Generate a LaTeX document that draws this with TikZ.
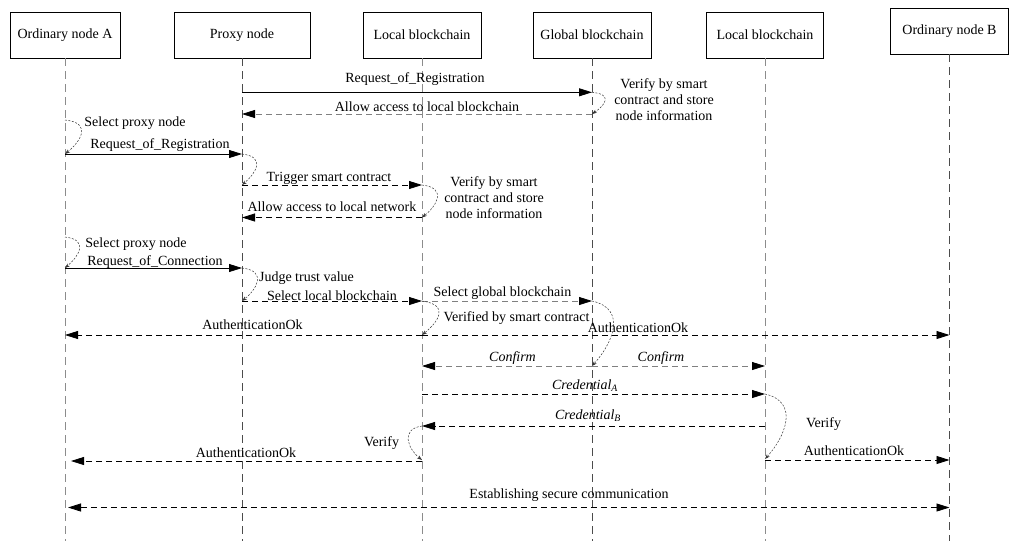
\documentclass[tikz,border=0pt]{standalone}
\usepackage{fontspec}
\setmainfont{Liberation Serif}
\usetikzlibrary{arrows.meta}
\begin{document}
\begin{tikzpicture}[x=1pt,y=-1pt,
  font=\fontsize{14}{16}\selectfont,
  actor/.style={draw, line width=0.8pt, minimum height=46pt, inner sep=0pt},
  life/.style={line width=0.8pt, black!45, dash pattern=on 8pt off 5pt},
  lifed/.style={line width=0.8pt, black!70, dash pattern=on 8pt off 5pt},
  msg/.style={line width=0.8pt, -{Triangle[length=13pt,width=8pt,color=black]}},
  dmsg/.style={msg, dash pattern=on 6pt off 4pt},
  gmsg/.style={dmsg, black!50},
  bmsg/.style={line width=0.8pt, dash pattern=on 6pt off 4pt, {Triangle[length=13pt,width=8pt]}-{Triangle[length=13pt,width=8pt]}},
  self/.style={line width=0.5pt, black!80, dash pattern=on 2pt off 1.5pt, -{Stealth[length=5pt,width=3.5pt]}},
  lbl/.style={inner sep=0pt, text height=9.5pt, text depth=0pt},
  para/.style={inner sep=0pt, align=center}
]
\useasboundingbox (0,0) rectangle (1022,550);

% actors
\node[actor, minimum width=110pt] (A) at (65,35) {Ordinary node A};
\node[actor, minimum width=136pt] (P) at (242,35) {Proxy node};
\node[actor, minimum width=118pt] (L1) at (422,35) {Local blockchain};
\node[actor, minimum width=118pt] (G) at (592,35) {Global blockchain};
\node[actor, minimum width=117pt] (L2) at (765,35) {Local blockchain};
\node[actor, minimum width=118pt] (B) at (949.5,31) {Ordinary node B};

% lifelines
\draw[life]  (A.south)  -- (A.south |- 0,541);
\draw[lifed] (P.south)  -- (P.south |- 0,541);
\draw[life]  (L1.south) -- (L1.south |- 0,541);
\draw[lifed] (G.south)  -- (G.south |- 0,541);
\draw[life]  (L2.south) -- (L2.south |- 0,541);
\draw[lifed] (B.south)  -- (B.south |- 0,541);

% registration via proxy
\draw[msg]  (P |- 0,92.3) -- (G |- 0,92.3);
\draw[self] (G |- 0,92.3) .. controls +(22,2) and +(12,-8) .. (G |- 0,114);
\draw[gmsg] (G |- 0,114) -- (P |- 0,114);
\node[lbl] (m1) at (415,78) {Request\_of\_Registration};
\node[lbl] (m2) at (427,107) {Allow access to local blockchain};
\node[para] (n1) at (664,99.5) {Verify by smart\\contract and store\\node information};

% registration of ordinary node
\draw[self] (A |- 0,120) .. controls +(28,3) and +(15,-12) .. (A |- 0,154);
\node[lbl] (s1) at (135,122) {Select proxy node};
\draw[msg] (A |- 0,154) -- (P |- 0,154);
\node[lbl] (m3) at (160,144) {Request\_of\_Registration};
\draw[self] (P |- 0,154) .. controls +(25,3) and +(13,-11) .. (P |- 0,185);
\draw[dmsg] (P |- 0,185) -- (L1 |- 0,185);
\node[lbl] (m4) at (329,177) {Trigger smart contract};
\draw[self] (L1 |- 0,185) .. controls +(26,3) and +(14,-11) .. (L1 |- 0,217.5);
\node[para] (n2) at (494,198) {Verify by smart\\contract and store\\node information};
\draw[dmsg] (L1 |- 0,217.5) -- (P |- 0,217.5);
\node[lbl] (m5) at (332,207) {Allow access to local network};

% connection
\draw[self] (A |- 0,237) .. controls +(25,3) and +(13,-11) .. (A |- 0,268);
\node[lbl] (s2) at (136,243) {Select proxy node};
\draw[msg] (A |- 0,268) -- (P |- 0,268);
\node[lbl] (m6) at (155,261) {Request\_of\_Connection};
\draw[self] (P |- 0,268) .. controls +(26,3) and +(14,-11) .. (P |- 0,301);
\node[lbl] (j) at (306.5,277) {Judge trust value};
\draw[dmsg] (P |- 0,301) -- (L1 |- 0,301);
\node[lbl] (m7) at (332,296) {Select local blockchain};
\draw[gmsg] (L1 |- 0,301) -- (G |- 0,301);
\node[lbl] (m8) at (502.5,292) {Select global blockchain};
\draw[self] (L1 |- 0,301) .. controls +(29,4) and +(15,-12) .. (L1 |- 0,335);
\node[lbl] (v1) at (516.5,317) {Verified by smart contract};
\draw[dmsg] (L1 |- 0,335) -- (A |- 0,335);
\draw[dmsg] (L1 |- 0,335) -- (B |- 0,335);
\node[lbl] (m9) at (252.5,324.5) {AuthenticationOk};
\draw[self] (G |- 0,301) .. controls +(36,8) and +(20,-22) .. (G |- 0,366);
\node[lbl] (m10) at (638,327.5) {AuthenticationOk};
\draw[gmsg] (G |- 0,366) -- (L1 |- 0,366);
\draw[gmsg] (G |- 0,366) -- (L2 |- 0,366);
\node[lbl] (c1) at (512.5,357) {\textit{Confirm}};
\node[lbl] (c2) at (661,357) {\textit{Confirm}};

% credentials
\draw[dmsg] (L1 |- 0,394) -- (L2 |- 0,394);
\node[lbl] (ca) at (585,385) {\textit{Credential\textsubscript{A}}};
\draw[self] (L2 |- 0,394) .. controls +(35,8) and +(20,-22) .. (L2 |- 0,459);
\node[lbl] (v2) at (823.5,423) {Verify};
\draw[dmsg] (L2 |- 0,426) -- (L1 |- 0,426);
\node[lbl] (cb) at (588,415) {\textit{Credential\textsubscript{B}}};
\draw[self] (L1 |- 0,426) .. controls +(-22,3) and +(-14,-11) .. (L1 |- 0,460);
\node[lbl] (v3) at (381.5,442) {Verify};
\draw[dmsg, shorten >=6pt] (L1 |- 0,461) -- (A |- 0,461);
\node[lbl] (m11) at (246,452.5) {AuthenticationOk};
\draw[dmsg] (L2 |- 0,460) -- (B |- 0,460);
\node[lbl] (m12) at (854,451) {AuthenticationOk};

% secure communication
\draw[bmsg, shorten <=3pt] (A |- 0,507.5) -- (B |- 0,507.5);
\node[lbl] (e) at (569,494) {Establishing secure communication};
\end{tikzpicture}
\end{document}
